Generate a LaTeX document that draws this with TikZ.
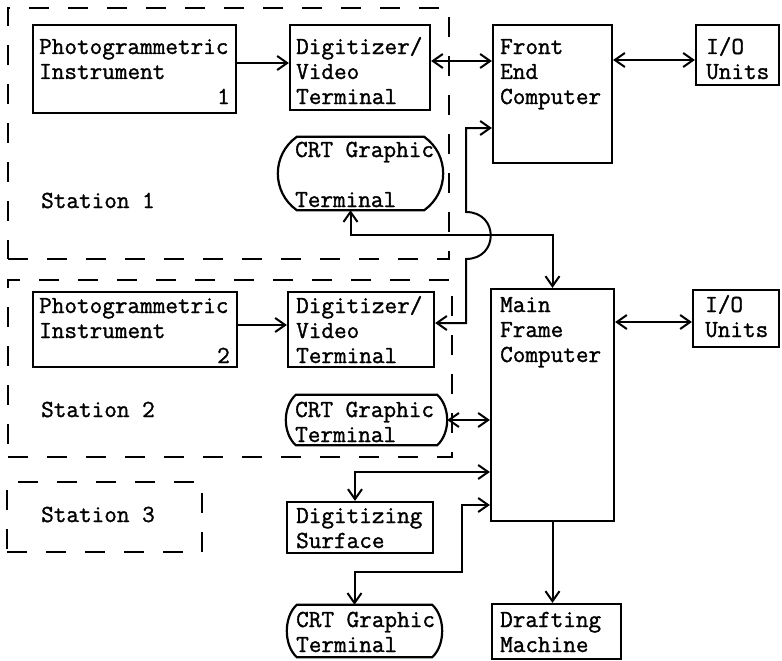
\documentclass[tikz,border=0pt]{standalone}
\usepackage{fontspec}
\setmainfont{Latin Modern Mono}[FakeBold=1.3]
\usetikzlibrary{arrows.meta,fit}

% outline of a CRT terminal: flat top and bottom, bulging sides
% #1 node, #2 bulge, #3 control offset (bulge/3), #4 vertical inset of controls
\newcommand\crtshape[4]{%
  \draw[box] ([xshift=#2pt]#1.north west) -- ([xshift=-#2pt]#1.north east)
    .. controls ([xshift=#3pt,yshift=-#4pt]#1.north east) and ([xshift=#3pt,yshift=#4pt]#1.south east)
    .. ([xshift=-#2pt]#1.south east) -- ([xshift=#2pt]#1.south west)
    .. controls ([xshift=-#3pt,yshift=#4pt]#1.south west) and ([xshift=-#3pt,yshift=-#4pt]#1.north west)
    .. cycle;}

\begin{document}
\begin{tikzpicture}[x=1pt,y=-1pt,
  box/.style={draw, line width=2.2pt, line join=miter, inner sep=0pt},
  hidden/.style={inner sep=0pt},
  stationbox/.style={draw, line width=2.2pt, dash pattern=on 20pt off 19pt, inner sep=0pt},
  txt/.style={anchor=base west, align=left, inner sep=0pt, font=\fontsize{24.5}{25}\selectfont},
  conn/.style={line width=2pt, line join=miter},
  >={Straight Barb[length=10pt,width=14pt]}]

\fill[white] (0,0) rectangle (782,661);
\useasboundingbox (0,0) rectangle (782,661);

% ---- station frames (multi-line texts are placed by their last baseline)
\node[stationbox, fit={(8,8) (449,259)}] (st1) {};
\node[stationbox, fit={(8,280) (452,457)}] (st2) {};
\node[stationbox, fit={(7,482) (202,552)}] (st3) {};
\node[txt] (st1t) at (41,208) {Station 1};
\node[txt] (st2t) at (41,417) {Station 2};
\node[txt] (st3t) at (41,522) {Station 3};

% ---- station 1
\node[box, fit={(33,25) (236,113)}] (p1) {};
\node[txt] (p1t) at (39,79) {Photogrammetric\\Instrument};
\node[txt, anchor=base east] (p1n) at (230,104) {1};
\node[box, fit={(290,25) (430,110)}] (d1) {};
\node[txt] (d1t) at (296,104) {Digitizer/\\Video\\Terminal};
\node[hidden, fit={(278,137) (443,210)}] (crt1) {};
\crtshape{crt1}{19}{6.3}{18}
\node[txt] (crt1t) at (295,157) {CRT Graphic};
\node[txt] (crt1b) at (295,207) {Terminal};

% ---- station 2
\node[box, fit={(33,292) (237,367)}] (p2) {};
\node[txt] (p2t) at (39,338) {Photogrammetric\\Instrument};
\node[txt, anchor=base east] (p2n) at (230,363) {2};
\node[box, fit={(288,292) (434,367)}] (d2) {};
\node[txt] (d2t) at (296,363) {Digitizer/\\Video\\Terminal};
\node[hidden, fit={(286,395) (447,445)}] (crt2) {};
\crtshape{crt2}{10}{3.3}{12}
\node[txt] (crt2t) at (295,442) {CRT Graphic\\Terminal};

% ---- computers and peripherals
\node[box, fit={(493,25) (612,163)}] (fe) {};
\node[txt] (fet) at (500,104) {Front\\End\\Computer};
\node[box, fit={(696,25) (779,85)}] (io1) {};
\node[txt] (io1t) at (706,79) {I/O\\Units};
\node[box, fit={(491,289) (614,521)}] (mf) {};
\node[txt] (mft) at (500,362) {Main\\Frame\\Computer};
\node[box, fit={(693,290) (779,347)}] (io2) {};
\node[txt] (io2t) at (705,337) {I/O\\Units};
\node[box, fit={(287,502) (433,553)}] (ds) {};
\node[txt] (dst) at (296,548) {Digitizing\\Surface};
\node[hidden, fit={(287,605) (442,657)}] (crt3) {};
\crtshape{crt3}{10}{3.3}{12}
\node[txt] (crt3t) at (296,652) {CRT Graphic\\Terminal};
\node[box, fit={(492,604) (621,659)}] (dm) {};
\node[txt] (dmt) at (500,652) {Drafting\\Machine};

% ---- connectors
\draw[conn,->] (p1.east |- 0,63) -- (d1.west |- 0,63);
\draw[conn,->] (p2.east |- 0,325) -- (d2.west |- 0,325);
\draw[conn,<->] (d1.east |- 0,61) -- (fe.west |- 0,61);
\draw[conn,<->] (fe.east |- 0,60) -- (io1.west |- 0,60);
\draw[conn,<->] (d2.east |- 0,323) -| (466,259)
   .. controls (499,259) and (499,212) .. (466,212) -- (466,128) -- (fe.west |- 0,128);
\draw[conn,<->] ([xshift=-10pt]crt1.south) -- ++(0,25) -| (mf.north);
\draw[conn,<->] (mf.east |- 0,322) -- (io2.west |- 0,322);
\draw[conn,<->] (crt2.east) -- (crt2.east -| mf.west);
\draw[conn,<->] ([xshift=-5pt]ds.north) |- (mf.west |- 0,472);
\draw[conn,<->] ([xshift=-10pt]crt3.north) -- ++(0,-33) -| (462,505) -- (mf.west |- 0,505);
\draw[conn,->] (mf.south) -- (mf.south |- dm.north);
\end{tikzpicture}
\end{document}
